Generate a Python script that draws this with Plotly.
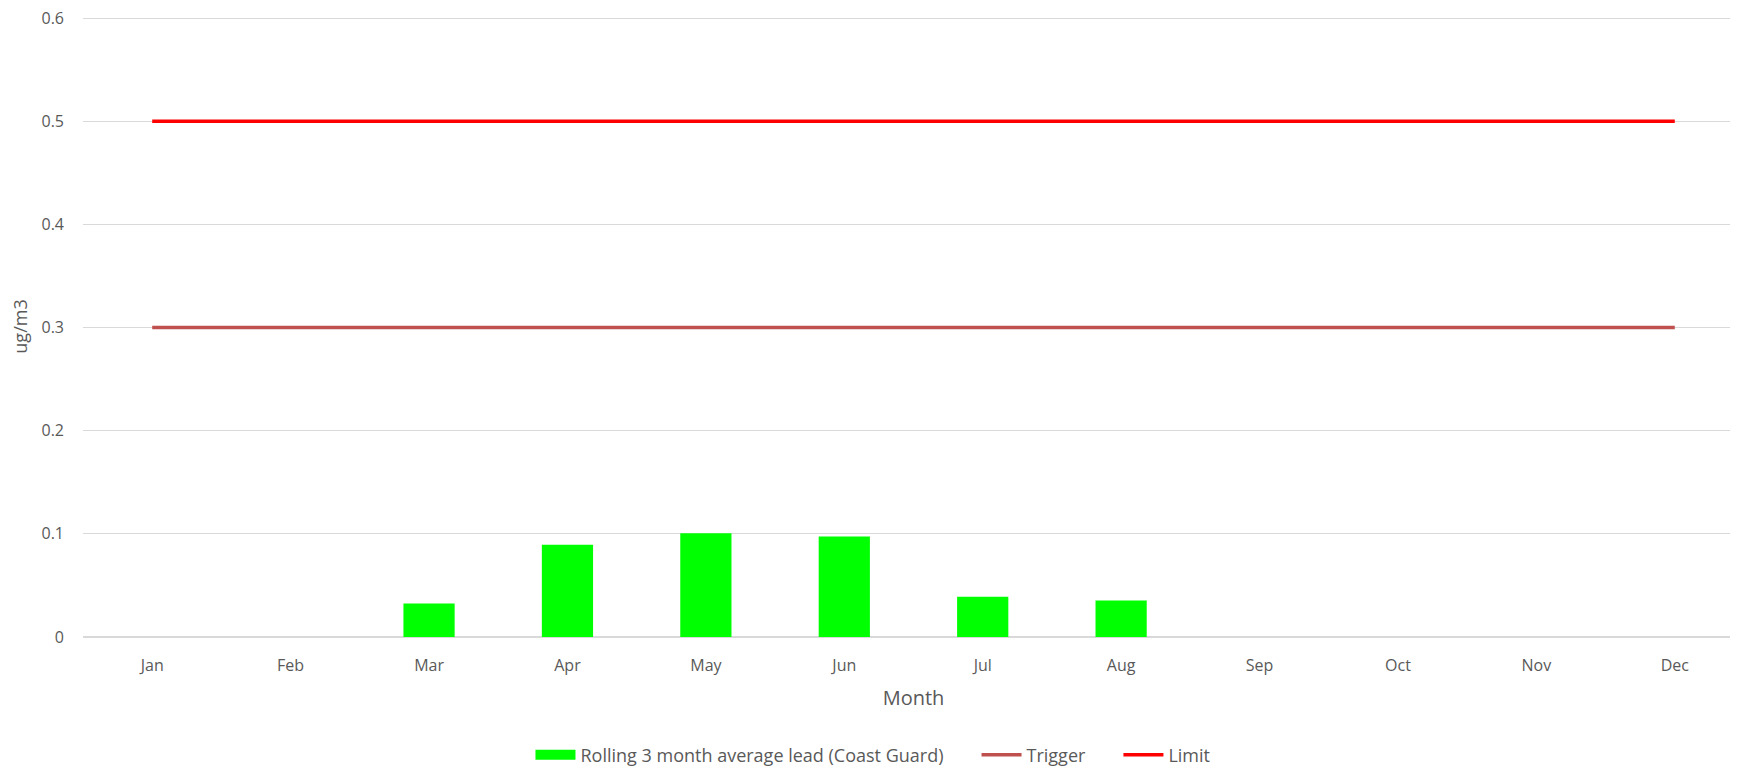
import plotly.graph_objects as go

# Monthly data
months = ["Jan", "Feb", "Mar", "Apr", "May", "Jun", "Jul", "Aug", "Sep", "Oct", "Nov", "Dec"]
rolling_avg = [None, None, 0.0325, 0.0894, 0.1006, 0.0975, 0.0389, 0.0355, None, None, None, None]
trigger = [0.3] * 12
limit = [0.5] * 12
y_ticks = [0, 0.1, 0.2, 0.3, 0.4, 0.5, 0.6]
y_ticktext = ["0", "0.1", "0.2", "0.3", "0.4", "0.5", "0.6"]

font_family = "Open Sans, Noto Sans, sans-serif"
grey = "#595959"
green = "#00FF00"
pad = "\u00a0" * 6  # extra room between legend entries
bar_name = "Rolling 3 month average lead (Coast Guard)"

fig = go.Figure()
fig.add_trace(go.Bar(x=months, y=rolling_avg, name=bar_name, legendgroup="bar",
                     showlegend=False,
                     marker=dict(color=green, line=dict(width=0))))
# legend entry for the bars drawn as a wide block, like the original
fig.add_trace(go.Scatter(x=[None], y=[None], mode="lines", name=bar_name + pad,
                         legendgroup="bar", line=dict(color=green, width=13)))
fig.add_trace(go.Scatter(x=months, y=trigger, mode="lines", name="Trigger" + pad,
                         line=dict(color="#C0504D", width=3.5)))
fig.add_trace(go.Scatter(x=months, y=limit, mode="lines", name="Limit",
                         line=dict(color="#FF0000", width=3.5)))

# page body adds 8px margin, so the figure is shifted a bit
fig.update_layout(
    width=1736, height=760,
    margin=dict(l=75, r=0, t=8, b=131, autoexpand=False),
    plot_bgcolor="white", paper_bgcolor="white",
    bargap=0.63,
    font=dict(family=font_family, size=16, color=grey),
    showlegend=True,
    legend=dict(orientation="h", x=0.4756, xanchor="center", y=-0.19, yanchor="middle",
                font=dict(size=18, color=grey), itemwidth=40, traceorder="normal"),
)
fig.update_xaxes(title=dict(text="Month", font=dict(size=20, color=grey), standoff=15),
                 showgrid=False, showline=False, ticks="", range=[-0.5, 11.5],
                 ticklabelstandoff=17, automargin=False,
                 tickfont=dict(size=16, color=grey))
fig.update_yaxes(title=dict(text="ug/m3", font=dict(size=18, color=grey), standoff=12),
                 range=[0, 0.602], tickmode="array", tickvals=y_ticks, ticktext=y_ticktext,
                 showgrid=True, gridcolor="#D9D9D9", gridwidth=1,
                 zeroline=True, zerolinecolor="#D9D9D9", zerolinewidth=1.5,
                 ticklabelstandoff=18, automargin=False, ticklabeloverflow="allow",
                 showline=False, ticks="", tickfont=dict(size=16, color=grey))

fig.write_html("out.html")
